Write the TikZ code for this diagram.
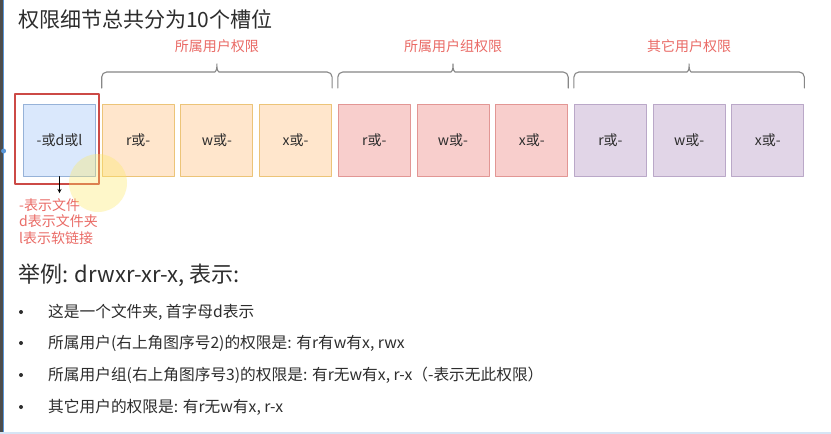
\documentclass[tikz,border=0pt]{standalone}
\usepackage{fontspec}
\setmainfont{Noto Sans CJK SC}
\usetikzlibrary{positioning}
\begin{document}
\begin{tikzpicture}[x=1pt, y=-1pt, >=stealth, line cap=round, line join=round]
	\definecolor{inkgray}{RGB}{45, 45, 45}
	\definecolor{bracegray}{RGB}{135, 135, 135}
	\definecolor{notered}{RGB}{234, 107, 102}
	\definecolor{markred}{RGB}{204, 74, 70}
	\definecolor{bluefill}{RGB}{218, 232, 252}
	\definecolor{blueline}{RGB}{150, 178, 216}
	\definecolor{orgfill}{RGB}{255, 230, 204}
	\definecolor{orgline}{RGB}{236, 196, 120}
	\definecolor{redfill}{RGB}{248, 206, 204}
	\definecolor{redline}{RGB}{226, 150, 148}
	\definecolor{purfill}{RGB}{225, 213, 231}
	\definecolor{purline}{RGB}{186, 168, 200}
	\definecolor{edgeblue}{RGB}{90, 150, 215}
	\tikzset{
		slot/.style={draw, line width=0.9pt, minimum width=72pt, minimum height=72pt, inner sep=0pt, text=inkgray, font=\fontsize{14}{16}\selectfont},
		brace/.style={draw=bracegray, line width=1.1pt, rounded corners=5pt},
		grouplabel/.style={text=notered, font=\fontsize{14}{16}\selectfont},
		bigline/.style={anchor=west, inner sep=0pt, text=inkgray, font=\fontsize{21}{24}\selectfont},
		dotline/.style={anchor=west, inner sep=0pt, text=inkgray, font=\fontsize{15.7}{18}\selectfont},
		dot/.style={circle, fill=inkgray, inner sep=0pt, minimum size=4pt}
	}
	% page and screen edges
	\fill[white] (0, 0) rectangle (831, 434);
	\fill[gray!60!black] (0, 0) rectangle (2.7, 434);
	\fill[edgeblue] (3, 0) rectangle (4.4, 434);
	\fill[edgeblue] (3.6, 151) circle (2.5pt);
	\fill[edgeblue!25] (0, 432) rectangle (831, 434);
	\node[bigline] (title) at (18, 19) {权限细节总共分为10个槽位};
	% the ten slots
	\node[slot, fill=bluefill, draw=blueline] (s0) at (59.5, 140) {-或d或l};
	\foreach \i/\t/\f/\d in {1/r或-/orgfill/orgline, 2/w或-/orgfill/orgline, 3/x或-/orgfill/orgline,
		4/r或-/redfill/redline, 5/w或-/redfill/redline, 6/x或-/redfill/redline,
		7/r或-/purfill/purline, 8/w或-/purfill/purline, 9/x或-/purfill/purline}
		\node[slot, fill=\f, draw=\d] (s\i) at ({59.5+78.7*\i}, 140) {\t};
	% braces over the three groups
	\foreach \a/\b/\t [count=\k] in {1/3/所属用户权限, 4/6/所属用户组权限, 7/9/其它用户权限} {
		\pgfmathsetmacro{\xl}{23+78.7*\a}
		\pgfmathsetmacro{\xr}{23+78.7*\b+73}
		\pgfmathsetmacro{\xm}{(\xl+\xr)/2}
		\draw[brace] (\xl, 88) -- (\xl, 72) -- (\xm-7, 72)
			.. controls (\xm-1.5, 72) and (\xm, 70) .. (\xm, 61)
			.. controls (\xm, 70) and (\xm+1.5, 72) .. (\xm+7, 72) -- (\xr, 72) -- (\xr, 88);
		\node[grouplabel] (g\k) at (\xm, 46) {\t};
	}
	% first slot highlighted
	\node[draw=markred, line width=1.4pt, minimum width=84pt, minimum height=90pt, inner sep=0pt] (mark) at (57, 139) {};
	\coordinate (tip) at (59.5, 193);
	\draw[->, line width=0.8pt] (s0.south) -- (tip);
	\node[anchor=north west, inner sep=0pt, align=left, text=notered, font=\fontsize{14}{16.8}\selectfont] (note) at (19, 198) {-表示文件\\d表示文件夹\\l表示软链接};
	\fill[yellow!80!orange!60, opacity=0.35] (98, 183) circle (29pt);
	% example
	\node[bigline, font=\fontsize{22}{25}\selectfont] (eg) at (18, 275) {举例: drwxr-xr-x, 表示:};
	\node[dot] (d1) at (21, 312) {};
	\node[dot] (d2) at (21, 343) {};
	\node[dot] (d3) at (21, 375) {};
	\node[dot] (d4) at (21, 407) {};
	\node[dotline] (l1) at (48, 312) {这是一个文件夹, 首字母d表示};
	\node[dotline] (l2) at (48, 343) {所属用户(右上角图序号2)的权限是: 有r有w有x, rwx};
	\node[dotline] (l3) at (48, 375) {所属用户组(右上角图序号3)的权限是: 有r无w有x, r-x（-表示无此权限）};
	\node[dotline] (l4) at (48, 407) {其它用户的权限是: 有r无w有x, r-x};
\end{tikzpicture}
\end{document}
